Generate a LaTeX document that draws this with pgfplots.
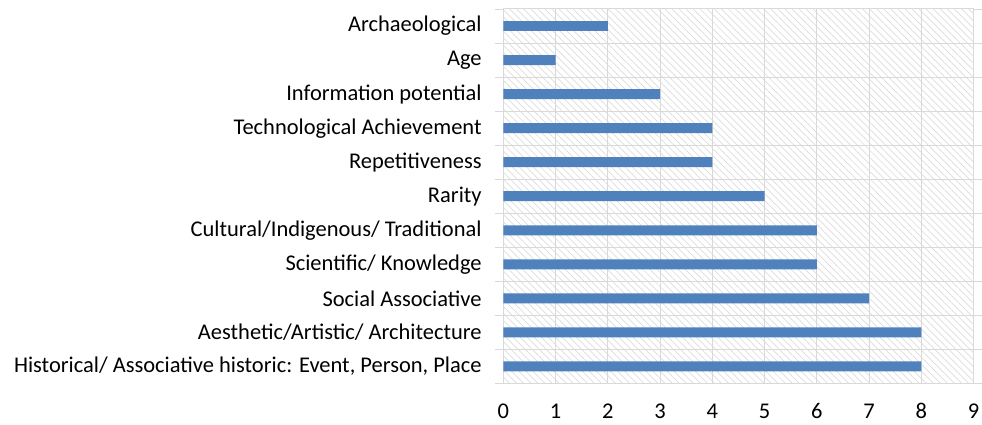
\documentclass[border=0pt]{standalone}
\usepackage{pgfplots}
\pgfplotsset{compat=1.18}
\usepackage{fontspec}
\setmainfont{Carlito}
\usetikzlibrary{patterns.meta}
\definecolor{barblue}{HTML}{4F81BD}
\definecolor{gridgray}{HTML}{D9D9D9}
\definecolor{hatchgray}{HTML}{DCDCDC}
\begin{document}
\fontsize{22.5}{27}\selectfont
\begin{tikzpicture}
\begin{axis}[
    scale only axis,
    width=471pt, height=375pt,
    xbar, bar width=10pt,
    xmin=0, xmax=9,
    ymin=-0.5, ymax=10.5,
    xtick={0,...,9},
    ytick={0,...,10},
    yticklabels={{Historical/ Associative historic: Event, Person, Place},
        {Aesthetic/Artistic/ Architecture}, {Social Associative},
        {Scientific/ Knowledge}, {Cultural/Indigenous/ Traditional}, {Rarity},
        {Repetitiveness}, {Technological Achievement}, {Information potential},
        {Age}, {Archaeological}},
    minor ytick={-0.5,0.5,...,10.5},
    major tick length=0pt,
    minor tick length=8pt,
    tick align=outside,
    minor y tick style={draw=gridgray, line width=0.8pt},
    xmajorgrids, yminorgrids,
    grid style={draw=gridgray, line width=1pt},
    axis line style={draw=gridgray, line width=1pt},
    axis background/.style={pattern={Lines[angle=-45, distance=5pt, line width=0.7pt]}, pattern color=hatchgray},
    y tick label style={xshift=-14pt, font=\fontsize{22.5}{27}\selectfont},
    x tick label style={inner sep=0pt, yshift=-20pt, font=\fontsize{22.5}{27}\selectfont},
    /pgf/number format/assume math mode=true,
]
\addplot[fill=barblue, draw=none] coordinates {
(8,0) (8,1) (7,2) (6,3) (6,4) (5,5) (4,6) (4,7) (3,8) (1,9) (2,10)
};
\end{axis}
\path ([xshift=-504pt,yshift=-41pt]current axis.south west)
      ([xshift=7pt,yshift=9pt]current axis.north east);
\end{tikzpicture}
\end{document}
